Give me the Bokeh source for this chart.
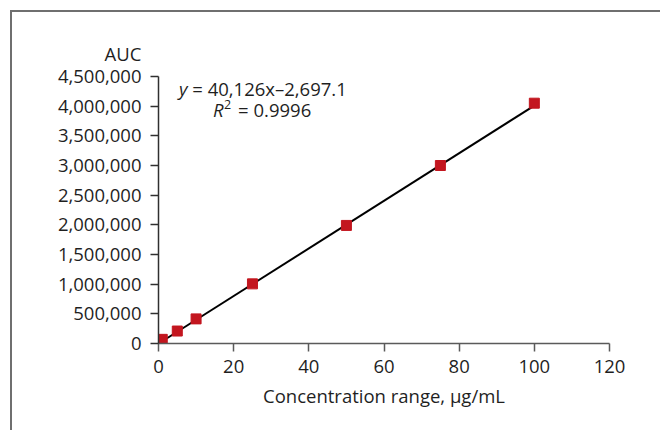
from bokeh.plotting import figure
from bokeh.models import Label, FixedTicker, NumeralTickFormatter, Range1d, Title
from bokeh.embed import file_html
from bokeh.resources import INLINE

# data
conc = [1, 5, 10, 25, 50, 75, 100]
auc = [70000, 210000, 415000, 1005000, 1990000, 3000000, 4050000]
blank_x = [0.5]
blank_y = [0]
slope = 40126
intercept = -2697.1
x_ticks = [0, 20, 40, 60, 80, 100, 120]
y_ticks = [0, 500000, 1000000, 1500000, 2000000, 2500000, 3000000, 3500000, 4000000, 4500000]

FONT = "Open Sans"
FS = "18.5px"
TXT = "#1f1f1f"

p = figure(width=650, height=420, output_backend="svg", toolbar_location=None,
           x_range=Range1d(0, 120), y_range=Range1d(0, 4500000),
           min_border_left=146, min_border_right=53, min_border_top=64, min_border_bottom=89)
p.margin = (10, 0, 0, 10)
p.styles = {"border-left": "2px solid #6f6f6f", "border-top": "2px solid #6f6f6f"}
p.outline_line_color = None
p.xgrid.visible = False
p.ygrid.visible = False

for ax in (p.xaxis[0], p.yaxis[0]):
    ax.major_tick_in = 0
    ax.major_tick_out = 8
    ax.minor_tick_line_color = None
    ax.major_label_text_font = FONT
    ax.major_label_text_font_size = FS
    ax.major_label_text_color = TXT
    ax.axis_line_width = 1.5
    ax.major_tick_line_width = 1.5

p.xaxis.ticker = FixedTicker(ticks=x_ticks)
p.yaxis.ticker = FixedTicker(ticks=y_ticks)
p.yaxis.formatter = NumeralTickFormatter(format="0,0")
p.xaxis.axis_line_color = "#5a5a5a"
p.xaxis.major_tick_line_color = "#5a5a5a"
p.yaxis.axis_line_color = "#303030"
p.yaxis.major_tick_line_color = "#303030"
p.yaxis.major_label_standoff = 9
p.xaxis.major_label_standoff = 8
p.xaxis.axis_label = "Concentration range, µg/mL"
p.xaxis.axis_label_text_font = FONT
p.xaxis.axis_label_text_font_size = FS
p.xaxis.axis_label_text_font_style = "normal"
p.xaxis.axis_label_text_color = TXT
p.xaxis.axis_label_standoff = 7

p.add_layout(Title(text="AUC", align="left", offset=-54, standoff=17,
                   vertical_align="top",
                   text_font=FONT, text_font_size=FS, text_font_style="normal",
                   text_color=TXT), "above")

# trend line from the fitted equation
tx = [conc[0], conc[-1]]
ty = [slope * v + intercept for v in tx]

p.scatter(blank_x, blank_y, marker="diamond", size=11, color="#4472C4")
p.line(tx, ty, line_color="black", line_width=2)
p.scatter(conc, auc, marker="square", size=10, color="#C3161F")

def lab(x, y, text, align="left", style="normal", size=FS, yoff=0):
    p.add_layout(Label(x=x, y=y, text=text, text_align=align, text_baseline="middle",
                       text_font=FONT, text_font_size=size, text_font_style=style,
                       text_color=TXT, y_offset=yoff))

lab(7.7, 4290000, "y", align="right", style="italic")
lab(7.7, 4290000, "\u00a0=\u00a040,126x\u20132,697.1")
lab(17.3, 3940000, "R", align="right", style="italic")
lab(17.4, 3940000, "2", size="12.5px", yoff=5)
lab(19.9, 3940000, "\u00a0=\u00a00.9996")

open("out.html", "w").write(file_html(p, INLINE))
